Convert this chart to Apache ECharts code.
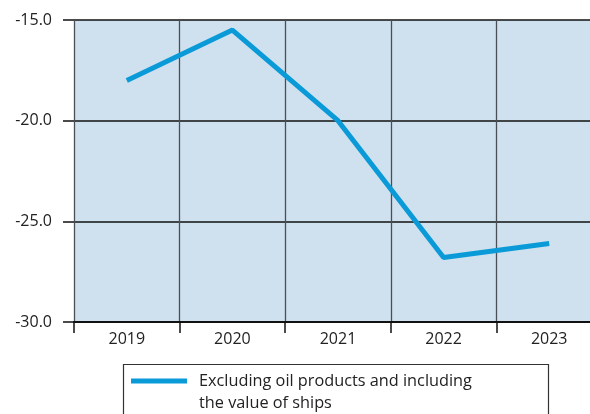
<!DOCTYPE html>
<html>
<head>
<meta charset="utf-8">
<script src="https://cdn.jsdelivr.net/npm/echarts@6/dist/echarts.min.js"></script>
<style>
  html, body { margin: 0; padding: 0; background: #fff; }
  #chart { width: 590px; height: 414px; }
</style>
</head>
<body>
<div id="chart"></div>
<script>
// data
var years = ["2019", "2020", "2021", "2022", "2023"];
var values = [-18.0, -15.5, -20.0, -26.8, -26.1];
var seriesName = "Excluding oil products and including\nthe value of ships";
var yTicks = { min: -30, max: -15, interval: 5 };

var font = "Open Sans";
var chart = echarts.init(document.getElementById("chart"));

var option = {
  animation: false,
  grid: {
    left: 74, right: -12, top: 20, bottom: 92,
    show: true, backgroundColor: "#cfe1ef", borderWidth: 0,
    outerBoundsMode: "none"
  },
  xAxis: {
    type: "category",
    data: years,
    boundaryGap: true,
    axisLine: { lineStyle: { color: "#111", width: 2 } },
    axisTick: { show: true, length: 11, lineStyle: { color: "#111", width: 1.5 } },
    axisLabel: { color: "#222", fontFamily: font, fontSize: 16, margin: 9 },
    splitLine: { show: true, lineStyle: { color: "#4a4f57", width: 1.3 } }
  },
  yAxis: {
    type: "value",
    min: yTicks.min, max: yTicks.max, interval: yTicks.interval,
    axisLine: { show: false },
    axisTick: { show: true, length: 11, lineStyle: { color: "#111", width: 1.5 } },
    axisLabel: {
      color: "#222", fontFamily: font, fontSize: 16, margin: 22,
      formatter: function (v) { return v.toFixed(1); }
    },
    splitLine: { show: true, lineStyle: { color: "#111", width: 1.5 } }
  },
  legend: {
    left: 131, top: 348, padding: 0,
    icon: "rect", itemWidth: 56, itemHeight: 5,
    itemGap: 0,
    selectedMode: false,
    // leading blank line so the first text line sits level with the icon
    formatter: function (name) { return " \n" + name; },
    textStyle: {
      color: "#222", fontFamily: font, fontSize: 16.3, lineHeight: 22,
      padding: [0, 0, 0, 7]
    },
    data: [seriesName]
  },
  graphic: [{
    type: "rect",
    left: 121, top: 362,
    shape: { width: 425, height: 70 },
    style: { fill: "none", stroke: "#333", lineWidth: 1.2 },
    silent: true
  }],
  series: [{
    name: seriesName,
    type: "line",
    data: values,
    symbol: "none",
    color: "#0a9ad8",
    lineStyle: { width: 5, color: "#0a9ad8" }
  }]
};

chart.setOption(option);
</script>
</body>
</html>
